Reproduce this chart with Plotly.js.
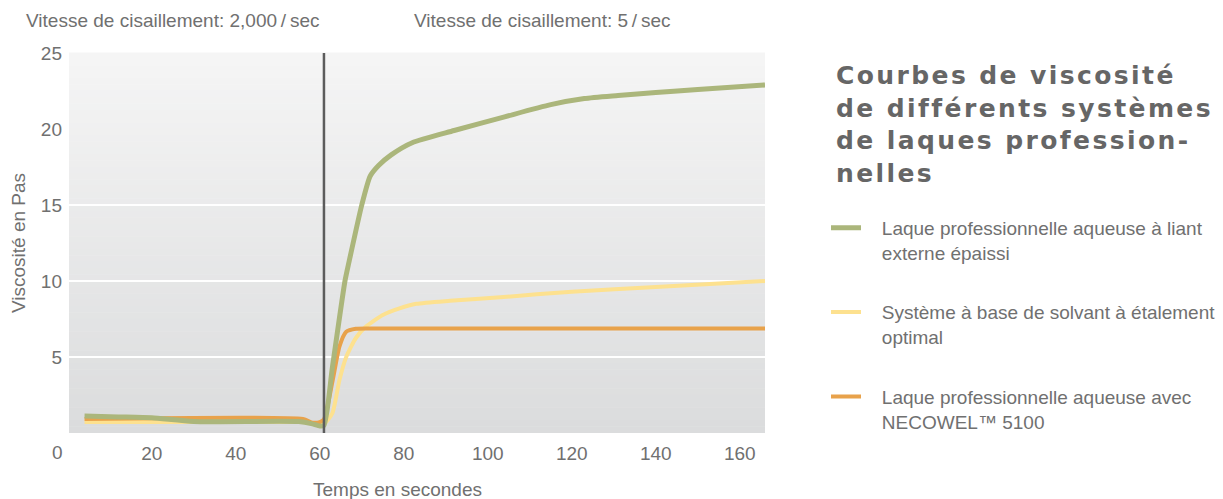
<!DOCTYPE html>
<html>
<head>
<meta charset="utf-8">
<script src="https://cdn.plot.ly/plotly-3.0.1.min.js"></script>
<style>html,body{margin:0;padding:0;background:#fff;}#chart{width:1223px;height:499px;}</style>
</head>
<body>
<div id="chart"></div>
<script>
// ---- Data ----
const NB = "\u00a0\u00a0\u00a0";
const seriesNames = [
  NB + "Laque professionnelle aqueuse à liant<br>" + NB + "externe épaissi",
  NB + "Système à base de solvant à étalement<br>" + NB + "optimal",
  NB + "Laque professionnelle aqueuse avec<br>" + NB + "NECOWEL™ 5100"
];
const greenTime = [4, 12, 20, 30, 55, 58, 60, 61, 63, 66, 67, 70, 72, 74, 77, 82, 92, 104, 115, 123, 131, 140, 150, 166];
const greenVisc = [1.12, 1.06, 1.0, 0.76, 0.75, 0.62, 0.46, 0.5, 4.3, 10.0, 11.3, 15.0, 16.9, 17.6, 18.3, 19.1, 19.9, 20.8, 21.6, 22.0, 22.2, 22.4, 22.6, 22.9];
const yellowTime = [4, 20, 56, 59, 61, 63, 64.7, 66.3, 68.6, 71, 75, 79, 83, 91, 103, 120, 140, 166];
const yellowVisc = [0.72, 0.72, 0.72, 0.62, 0.6, 1.3, 3.5, 5.0, 6.25, 7.0, 7.76, 8.2, 8.5, 8.7, 8.93, 9.3, 9.6, 10.0];
const orangeTime = [4, 56, 58.3, 60, 61, 63.1, 64.7, 66.3, 68.6, 72, 166];
const orangeVisc = [0.92, 0.92, 0.68, 0.72, 0.9, 3.5, 5.7, 6.66, 6.86, 6.88, 6.88];
const shearChangeTime = 61;
const xTicks = [20, 40, 60, 80, 100, 120, 140, 160];
const yTicks = [5, 10, 15, 20, 25];
const gridTicks = [5, 10, 15];
const shearLabels = ["Vitesse de cisaillement: 2,000\u2009/\u2009sec", "Vitesse de cisaillement: 5\u2009/\u2009sec"];

// ---- Styling ----
const FONT = "Liberation Sans, Arial, sans-serif";
const TXT = "#707070";
const colors = {green: "#abb67b", yellow: "#fde18f", orange: "#e8a24b"};

// plot-area pixel geometry -> paper coords for free text
const PL = 69, PR = 765, PT = 53, PB = 433.5;
const px = v => (v - PL) / (PR - PL);
const py = v => (PB - v) / (PB - PT);

function line(x, y, name, color, width, rank) {
  return {x: x, y: y, name: name, type: "scatter", mode: "lines",
    line: {color: color, width: width, shape: "spline", smoothing: 0.6},
    legendgroup: "g" + rank, legendrank: rank, hoverinfo: "skip"};
}
const traces = [
  line(yellowTime, yellowVisc, seriesNames[1], colors.yellow, 4, 2),
  line(orangeTime, orangeVisc, seriesNames[2], colors.orange, 4, 3),
  line(greenTime, greenVisc, seriesNames[0], colors.green, 5, 1)
];
traces.push({x: [0], y: [0], yaxis: "y2", type: "scatter", mode: "markers",
  marker: {opacity: 0}, showlegend: false, hoverinfo: "skip"});

// vertical gradient background as thin bands
const shapes = [];
const nBands = 60;
for (let i = 0; i < nBands; i++) {
  const f = i / (nBands - 1);
  const top = [245, 245, 245], bot = [219, 220, 221];
  const c = top.map((t, k) => Math.round(t + (bot[k] - t) * f));
  shapes.push({type: "rect", xref: "paper", yref: "paper", layer: "below",
    x0: 0, x1: 1, y0: 1 - (i + 1) / nBands, y1: 1 - i / nBands + 0.001,
    fillcolor: `rgb(${c[0]},${c[1]},${c[2]})`, line: {width: 0}});
}
shapes.push({type: "line", xref: "x", yref: "paper", x0: shearChangeTime, x1: shearChangeTime,
  y0: 0, y1: 1, line: {color: "#5c5c5c", width: 2.5}});

const annotations = [
  {text: shearLabels[0], xref: "paper", yref: "paper", x: px(24), y: py(20), xanchor: "left", yanchor: "middle",
    showarrow: false, font: {family: FONT, size: 19, color: TXT}},
  {text: shearLabels[1], xref: "paper", yref: "paper", x: px(412), y: py(20), xanchor: "left", yanchor: "middle",
    showarrow: false, font: {family: FONT, size: 19, color: TXT}},
  {text: "0", xref: "paper", yref: "paper", x: px(57), y: py(453), xanchor: "center", yanchor: "middle",
    showarrow: false, font: {family: FONT, size: 19, color: TXT}},
  {text: "Temps en secondes", xref: "paper", yref: "paper", x: px(397), y: py(490), xanchor: "center", yanchor: "middle",
    showarrow: false, font: {family: FONT, size: 19, color: TXT}},
  {text: '<span style="letter-spacing:2.4px"><b>Courbes de viscosité<br>de différents systèmes<br>de laques profession-<br>nelles</b></span>',
    xref: "paper", yref: "paper", x: px(834), y: py(59), xanchor: "left", yanchor: "top", align: "left",
    showarrow: false, font: {family: "DejaVu Sans, sans-serif", size: 25, color: "#666666"}}
];

const layout = {
  width: 1223, height: 499,
  margin: {l: PL, r: 1223 - PR, t: PT, b: 499 - PB, pad: 0, autoexpand: false},
  paper_bgcolor: "#ffffff", plot_bgcolor: "rgba(0,0,0,0)",
  font: {family: FONT, color: TXT},
  showlegend: true,
  legend: {x: px(826), y: py(209), xanchor: "left", yanchor: "top",
    traceorder: "grouped", tracegroupgap: 32, valign: "top", itemwidth: 30,
    font: {family: FONT, size: 19, color: TXT}, bgcolor: "rgba(0,0,0,0)"},
  xaxis: {range: [0.3, 166], tickvals: xTicks, showgrid: false, zeroline: false, showline: false,
    ticks: "", tickfont: {size: 19, color: TXT}, ticklabelstandoff: 7},
  yaxis: {range: [0, 25], tickvals: yTicks, showgrid: false, zeroline: false, showline: false,
    ticks: "", tickfont: {size: 19, color: TXT}, ticklabelstandoff: 6,
    title: {text: "Viscosité en Pas", font: {size: 19, color: TXT}, standoff: 10}},
  yaxis2: {range: [0, 25], overlaying: "y", tickvals: gridTicks, showticklabels: false, showgrid: true,
    gridcolor: "#ffffff", gridwidth: 2, zeroline: false, ticks: ""},
  shapes: shapes,
  annotations: annotations
};

Plotly.newPlot("chart", traces, layout, {staticPlot: true, displayModeBar: false});
</script>
</body>
</html>
